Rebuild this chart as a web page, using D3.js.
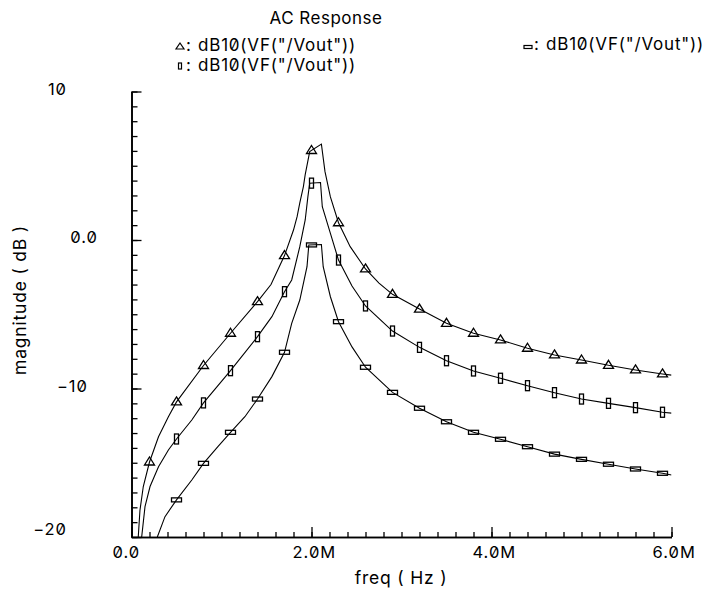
<!DOCTYPE html>
<html><head><meta charset="utf-8">
<script src="https://cdn.jsdelivr.net/npm/d3@7"></script>
<style>
body{margin:0;background:#fff;}
text{font-family:Inter,"DejaVu Sans",sans-serif;font-feature-settings:"zero" 1;fill:#000;}
</style></head>
<body>
<svg id="c" width="711" height="594"></svg>
<script>
// ---- data (freq in MHz, magnitude in dB) ----
const freqA = [0.075,0.094,0.131,0.2,0.3,0.41,0.5,0.8,1.1,1.4,1.55,1.7,1.8,1.84,1.87,1.91,1.93,1.98,2.11,2.15,2.21,2.3,2.43,2.6,2.75,2.9,3.2,3.5,3.8,4.1,4.4,4.7,5.0,5.3,5.6,5.9,6.0];
const dbA   = [-20,-18.2,-16.6,-14.95,-13.25,-11.9,-10.9,-8.45,-6.28,-4.15,-3.0,-1.05,0.67,1.57,2.5,3.6,4.4,5.95,6.46,4.6,2.9,1.16,-0.45,-1.95,-2.9,-3.66,-4.65,-5.61,-6.28,-6.73,-7.29,-7.74,-8.08,-8.44,-8.75,-9.02,-9.1];

const freqB = [0.113,0.15,0.206,0.3,0.41,0.5,0.67,0.8,1.1,1.4,1.56,1.7,1.78,1.87,1.93,1.96,1.98,2.1,2.12,2.21,2.3,2.45,2.6,2.9,3.2,3.5,3.8,4.1,4.4,4.7,5.0,5.3,5.6,5.9,6.0];
const dbB   = [-20,-17.96,-16.6,-15.27,-14.14,-13.4,-12.12,-10.97,-8.8,-6.51,-5.16,-3.48,-2.69,-0.45,1.35,2.92,3.82,3.87,2.24,0.45,-1.35,-3.1,-4.44,-6.13,-7.23,-8.13,-8.82,-9.31,-9.81,-10.28,-10.71,-11.0,-11.29,-11.6,-11.66];

const freqC = [0.287,0.372,0.5,0.67,0.8,0.96,1.1,1.26,1.4,1.56,1.7,1.78,1.87,1.95,1.97,2.11,2.13,2.21,2.3,2.45,2.6,2.9,3.2,3.5,3.8,4.1,4.4,4.7,5.0,5.3,5.6,5.9,6.0];
const dbC   = [-20,-18.63,-17.5,-16.16,-15.04,-13.92,-12.95,-11.9,-10.71,-9.2,-7.56,-5.61,-4.04,-1.8,-0.34,-0.3,-1.8,-3.82,-5.5,-7.2,-8.57,-10.26,-11.33,-12.24,-12.95,-13.42,-13.92,-14.42,-14.77,-15.1,-15.42,-15.71,-15.82];

const markA = [0.2,0.5,0.8,1.1,1.4,1.7,2.0,2.3,2.6,2.9,3.2,3.5,3.8,4.1,4.4,4.7,5.0,5.3,5.6,5.9];
const markB = [0.5,0.8,1.1,1.4,1.7,2.0,2.3,2.6,2.9,3.2,3.5,3.8,4.1,4.4,4.7,5.0,5.3,5.6,5.9];
const markC = [0.5,0.8,1.1,1.4,1.7,2.0,2.3,2.6,2.9,3.2,3.5,3.8,4.1,4.4,4.7,5.0,5.3,5.6,5.9];

const xTickVals = [0,2,4,6];
const xTickLabels = ["0.0","2.0M","4.0M","6.0M"];
const yTickVals = [10,0,-10,-20];
const yTickLabels = ["10","0.0","\u221210","\u221220"];
const legendText = 'dB10(VF("/Vout"))';
const titleText = "AC Response";

// ---- layout ----
const svg = d3.select("#c");
const L=131.5, R=671.5, T=91.5, B=537;
const x = d3.scaleLinear().domain([0,6]).range([L,R]);
const y = d3.scaleLinear().domain([-20,10]).range([B,T]);

svg.append("defs").append("clipPath").attr("id","clip")
  .append("rect").attr("x",L).attr("y",T).attr("width",R-L).attr("height",B-T);

// axes: minor + major ticks pointing inward
const minorX = d3.range(0,31).map(i=>i*0.2);
const minorY = d3.range(-20,11);
const gx = svg.append("g").attr("transform",`translate(0,${B})`);
gx.call(d3.axisBottom(x).tickValues(minorX).tickSize(-5).tickSizeOuter(0).tickFormat(""));
gx.append("g").call(d3.axisBottom(x).tickValues(xTickVals).tickSize(-10).tickSizeOuter(0).tickFormat(""));
const gy = svg.append("g").attr("transform",`translate(${L},0)`);
gy.call(d3.axisLeft(y).tickValues(minorY).tickSize(-6).tickSizeOuter(0).tickFormat(""));
gy.append("g").call(d3.axisLeft(y).tickValues(yTickVals).tickSize(-10).tickSizeOuter(0).tickFormat(""));
svg.selectAll(".domain").attr("stroke","#000").attr("stroke-width",1.6);
svg.selectAll(".tick line").attr("stroke","#000").attr("stroke-width",1.3);

// tick labels
svg.append("g").selectAll("text").data(xTickVals).join("text")
  .attr("x",d=>x(d)-19).attr("y",B+21).attr("font-size",16.5).attr("letter-spacing",1)
  .text((d,i)=>xTickLabels[i]);
svg.append("g").selectAll("text").data(yTickVals).join("text")
  .attr("x",(d,i)=> i===1?98:(i===2?88:67)).attr("y",(d,i)=>y(d)+(i===3?-2:3)).attr("text-anchor","end").attr("font-size",16.5).attr("letter-spacing",1)
  .text((d,i)=>yTickLabels[i]);

// axis titles
svg.append("text").attr("x",401).attr("y",584).attr("text-anchor","middle").attr("font-size",17.5).attr("letter-spacing",0.8).text("freq ( Hz )");
svg.append("text").attr("transform","translate(26,300) rotate(-90)").attr("text-anchor","middle").attr("font-size",17.5).attr("letter-spacing",0.8).text("magnitude ( dB )");
svg.append("text").attr("x",326).attr("y",24).attr("text-anchor","middle").attr("font-size",17).attr("letter-spacing",0.5).text(titleText);

// curves
const line = d3.line().x(d=>x(d[0])).y(d=>y(d[1]));
const series = [
  {f:freqA, v:dbA, m:markA, shape:"tri"},
  {f:freqC, v:dbC, m:markC, shape:"hrect"},
  {f:freqB, v:dbB, m:markB, shape:"vrect"}
];
const plot = svg.append("g").attr("clip-path","url(#clip)");
function interp(f,v,q){ const i = d3.bisectLeft(f,q); if(i<=0) return v[0]; if(i>=f.length) return v[v.length-1];
  const t=(q-f[i-1])/(f[i]-f[i-1]); return v[i-1]+t*(v[i]-v[i-1]); }
function drawShape(g,shape,cx,cy){
  if(shape==="tri"){
    g.append("path").attr("d",`M${cx},${cy-5}L${cx+5},${cy+3}L${cx-5},${cy+3}Z`)
      .attr("fill","none").attr("stroke","#000").attr("stroke-width",1.3);
  } else if(shape==="hrect"){
    g.append("rect").attr("x",cx-5).attr("y",cy-2).attr("width",10).attr("height",4)
      .attr("fill","none").attr("stroke","#000").attr("stroke-width",1.3);
  } else {
    g.append("rect").attr("x",cx-2).attr("y",cy-5).attr("width",4).attr("height",10)
      .attr("fill","none").attr("stroke","#000").attr("stroke-width",1.3);
  }
}
series.forEach(s=>{
  plot.append("path").datum(s.f.map((f,i)=>[f,s.v[i]])).attr("d",line)
    .attr("fill","none").attr("stroke","#000").attr("stroke-width",1.1);
  const mg = plot.append("g");
  s.m.forEach(q=>drawShape(mg,s.shape,x(q),y(interp(s.f,s.v,q))));
});

// legend
const lg = svg.append("g");
const legendItems = [
  {shape:"tri", sx:180, sy:48},
  {shape:"hrect", sx:528, sy:47},
  {shape:"vrect", sx:180, sy:68}
];
legendItems.forEach(it=>{
  const g = lg.append("g");
  if(it.shape==="tri") g.append("path").attr("d",`M${it.sx},${it.sy-5}L${it.sx+4},${it.sy+1}L${it.sx-4},${it.sy+1}Z`).attr("fill","none").attr("stroke","#000").attr("stroke-width",1.2);
  else if(it.shape==="hrect") g.append("rect").attr("x",it.sx-4).attr("y",it.sy-1.5).attr("width",8).attr("height",3).attr("fill","none").attr("stroke","#000").attr("stroke-width",1.2);
  else g.append("rect").attr("x",it.sx-1.5).attr("y",it.sy-5).attr("width",3).attr("height",6).attr("fill","none").attr("stroke","#000").attr("stroke-width",1.2);
  g.append("text").attr("x",it.sx+6).attr("y",it.sy+3).attr("font-size",17).text(":");
  g.append("text").attr("x",it.sx+18).attr("y",it.sy+3).attr("font-size",17).attr("letter-spacing",0.8).text(legendText);
});
</script>
</body></html>
